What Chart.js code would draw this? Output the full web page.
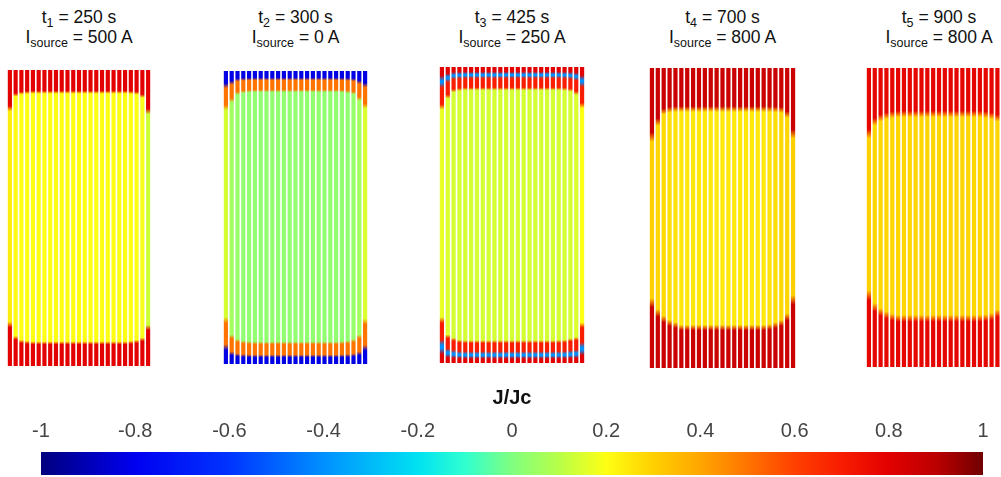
<!DOCTYPE html>
<html>
<head>
<meta charset="utf-8">
<script src="https://cdn.jsdelivr.net/npm/chart.js@4.4.1/dist/chart.umd.min.js"></script>
<style>
  body { margin: 0; width: 1001px; height: 477px; overflow: hidden; background: #fff; position: relative;
         font-family: "Liberation Sans", Arial, sans-serif; }
  canvas { position: absolute; }
  .ttl { position: absolute; top: 7px; width: 200px; text-align: center; font-size: 17.5px; line-height: 20px; color: #111; }
  .ttl sub { font-size: 12.5px; line-height: 0; vertical-align: -4px; }
</style>
</head>
<body>
<div id="panels"></div>
<canvas id="cbar" width="1001" height="97" style="left:0;top:380px"></canvas>
<script>
// tapes in the stack (one stripe each)
const tapeIds = ['1','2','3','4','5','6','7','8','9','10','11','12','13','14','15','16','17','18','19','20','21','22','23','24','25'];
const timesS = [250, 300, 425, 700, 900];
const sourceA = [500, 0, 250, 800, 800];

// colour map J/Jc -> colour
const cmapVals = [-1, -0.8, -0.6, -0.4, -0.2, -0.1, 0, 0.1, 0.2, 0.3, 0.4, 0.5, 0.6, 0.7, 0.8, 0.9, 1];
const cmapColors = ['#00007f', '#0000f0', '#0034ff', '#0090ff', '#00e2f2', '#30ffd0', '#80ff80', '#b8ff48', '#ffff14',
                    '#ffd000', '#ffa600', '#ff7400', '#ff4000', '#f81c00', '#e20000', '#bc0000', '#700000'];
const colorbarTicks = [-1, -0.8, -0.6, -0.4, -0.2, 0, 0.2, 0.4, 0.6, 0.8, 1];

// per panel: J/Jc of the layers at the tape ends (outermost first), their share of the front depth,
// front depth per tape (% of tape height) and J/Jc of the core
const p1TopJ = [0.8], p1TopShare = [1], p1BotJ = [0.8], p1BotShare = [1];
const p1TopFront = [13, 8.4, 7.8, 7.6, 7.5, 7.5, 7.5, 7.5, 7.5, 7.5, 7.5, 7.5, 7.5, 7.5, 7.5, 7.5, 7.5, 7.5, 7.5, 7.5, 7.5, 7.6, 7.8, 8.8, 14];
const p1BotFront = [14, 9.5, 8.3, 8, 7.8, 7.8, 7.8, 7.8, 7.8, 7.8, 7.8, 7.8, 7.8, 7.8, 7.8, 7.8, 7.8, 7.8, 7.8, 7.8, 7.8, 8, 8.3, 9, 13];
const p1Core = [0.24, 0.21, 0.2, 0.2, 0.2, 0.2, 0.2, 0.2, 0.2, 0.2, 0.2, 0.2, 0.2, 0.2, 0.2, 0.2, 0.2, 0.2, 0.2, 0.2, 0.2, 0.2, 0.2, 0.19, 0.13];

const p2TopJ = [-0.82, 0.5], p2TopShare = [0.4, 0.6], p2BotJ = [-0.82, 0.5], p2BotShare = [0.38, 0.62];
const p2TopFront = [12.5, 10, 7.6, 7.1, 6.9, 6.8, 6.8, 6.8, 6.8, 6.8, 6.8, 6.8, 6.8, 6.8, 6.8, 6.8, 6.8, 6.8, 6.8, 6.8, 6.9, 7.1, 7.5, 9.5, 12];
const p2BotFront = [15, 9.4, 8, 7.5, 7.3, 7.2, 7.2, 7.2, 7.2, 7.2, 7.2, 7.2, 7.2, 7.2, 7.2, 7.2, 7.2, 7.2, 7.2, 7.2, 7.3, 7.5, 8, 9.4, 14.5];
const p2Core = [0.14, 0.06, 0.04, 0.03, 0.03, 0.03, 0.03, 0.03, 0.03, 0.03, 0.03, 0.03, 0.03, 0.03, 0.03, 0.03, 0.03, 0.03, 0.03, 0.03, 0.03, 0.03, 0.04, 0.06, 0.15];

const p3TopJ = [0.8, -0.4, 0.7], p3TopShare = [0.28, 0.17, 0.55], p3BotJ = [0.8, -0.4, 0.7], p3BotShare = [0.27, 0.21, 0.52];
const p3TopFront = [13.5, 10, 8, 7.6, 7.4, 7.4, 7.4, 7.4, 7.4, 7.4, 7.4, 7.4, 7.4, 7.4, 7.4, 7.4, 7.4, 7.4, 7.4, 7.4, 7.4, 7.5, 7.8, 8.8, 13];
const p3BotFront = [14.5, 9, 8, 7.4, 7.2, 7.2, 7.2, 7.2, 7.2, 7.2, 7.2, 7.2, 7.2, 7.2, 7.2, 7.2, 7.2, 7.2, 7.2, 7.2, 7.3, 7.4, 7.8, 8.2, 12.8];
const p3Core = [0.17, 0.15, 0.14, 0.14, 0.14, 0.14, 0.14, 0.14, 0.14, 0.14, 0.14, 0.14, 0.14, 0.14, 0.14, 0.14, 0.14, 0.14, 0.14, 0.14, 0.14, 0.14, 0.14, 0.15, 0.2];

const p4TopJ = [0.86], p4TopShare = [1], p4BotJ = [0.86], p4BotShare = [1];
const p4TopFront = [23, 18, 14.5, 13.9, 13.7, 13.7, 13.7, 13.7, 13.7, 13.7, 13.7, 13.7, 13.7, 13.7, 13.7, 13.7, 13.7, 13.7, 13.7, 13.7, 13.7, 13.8, 14, 15.5, 22];
const p4BotFront = [21.7, 18.3, 16.3, 15, 14.3, 13.5, 13.5, 13.5, 13.5, 13.5, 13.5, 13.5, 13.5, 13.5, 13.5, 13.5, 13.5, 13.5, 13.5, 13.5, 13.7, 14.3, 15, 17, 22.7];
const p4Core = [0.3, 0.29, 0.28, 0.27, 0.26, 0.25, 0.25, 0.25, 0.25, 0.25, 0.25, 0.25, 0.25, 0.25, 0.25, 0.25, 0.25, 0.25, 0.25, 0.25, 0.26, 0.27, 0.28, 0.29, 0.3];

const p5TopJ = [0.78], p5TopShare = [1], p5BotJ = [0.78], p5BotShare = [1];
const p5TopFront = [22, 18, 16.7, 16, 15.6, 15.4, 15.4, 15.4, 15.4, 15.4, 15.4, 15.4, 15.4, 15.4, 15.4, 15.4, 15.4, 15.4, 15.4, 15.4, 15.6, 16, 16.7, 18, 22];
const p5BotFront = [24, 20, 18.4, 17.4, 16.7, 16.3, 16.3, 16.3, 16.3, 16.3, 16.3, 16.3, 16.3, 16.3, 16.3, 16.3, 16.3, 16.3, 16.3, 16.3, 16.5, 16.9, 18, 20, 24];
const p5Core = [0.3, 0.29, 0.29, 0.29, 0.29, 0.29, 0.29, 0.29, 0.29, 0.29, 0.29, 0.29, 0.29, 0.29, 0.29, 0.29, 0.29, 0.29, 0.29, 0.29, 0.29, 0.29, 0.29, 0.29, 0.3];

const panels = [
  { topJ: p1TopJ, topShare: p1TopShare, botJ: p1BotJ, botShare: p1BotShare, topFront: p1TopFront, botFront: p1BotFront, core: p1Core },
  { topJ: p2TopJ, topShare: p2TopShare, botJ: p2BotJ, botShare: p2BotShare, topFront: p2TopFront, botFront: p2BotFront, core: p2Core },
  { topJ: p3TopJ, topShare: p3TopShare, botJ: p3BotJ, botShare: p3BotShare, topFront: p3TopFront, botFront: p3BotFront, core: p3Core },
  { topJ: p4TopJ, topShare: p4TopShare, botJ: p4BotJ, botShare: p4BotShare, topFront: p4TopFront, botFront: p4BotFront, core: p4Core },
  { topJ: p5TopJ, topShare: p5TopShare, botJ: p5BotJ, botShare: p5BotShare, topFront: p5TopFront, botFront: p5BotFront, core: p5Core }
];

// where each panel sits on the page (outer edges of the stripes)
const panelBoxes = [
  { left: 8, right: 150, top: 70, bottom: 366 },
  { left: 224, right: 367, top: 71, bottom: 364 },
  { left: 440, right: 584, top: 67, bottom: 363 },
  { left: 650, right: 795, top: 68, bottom: 368 },
  { left: 867, right: 1011, top: 68, bottom: 367 }
];
const barShare = 0.72;

function hexRgb(h) {
  return [parseInt(h.slice(1, 3), 16), parseInt(h.slice(3, 5), 16), parseInt(h.slice(5, 7), 16)];
}

function cmap(j) {
  let k = 0;
  while (k < cmapVals.length - 2 && j > cmapVals[k + 1]) k++;
  const t = Math.max(0, Math.min(1, (j - cmapVals[k]) / (cmapVals[k + 1] - cmapVals[k])));
  const a = hexRgb(cmapColors[k]), b = hexRgb(cmapColors[k + 1]);
  return `rgb(${a.map((v, n) => Math.round(v + (b[n] - v) * t)).join(',')})`;
}

// split one tape (0 = bottom end, 100 = top end) into its layers
function tapeSegments(p, i) {
  const segs = [];
  const bTop = p.topFront[i] * 0.07, bBot = p.botFront[i] * 0.07;
  let pos = 100;
  p.topJ.forEach((j, k) => {
    const th = p.topFront[i] * p.topShare[k];
    segs.push({ hi: pos, lo: pos - th, j, bHi: bTop, bLo: bTop });
    pos -= th;
  });
  segs.push({ hi: pos, lo: p.botFront[i], j: p.core[i], bHi: bTop, bLo: bBot });
  pos = p.botFront[i];
  for (let k = p.botJ.length - 1; k >= 0; k--) {
    const th = p.botFront[i] * p.botShare[k];
    segs.push({ hi: pos, lo: pos - th, j: p.botJ[k], bHi: bBot, bLo: bBot });
    pos -= th;
  }
  return segs;
}

function tapeFill(p) {
  return (c) => {
    const { chart, dataIndex } = c;
    if (!chart.chartArea || dataIndex === undefined) return cmap(p.core[0]);
    const y = chart.scales.y;
    const y0 = y.getPixelForValue(100), y1 = y.getPixelForValue(0);
    const g = chart.ctx.createLinearGradient(0, y0, 0, y1);
    const off = v => Math.min(1, Math.max(0, (y.getPixelForValue(v) - y0) / (y1 - y0)));
    tapeSegments(p, dataIndex).forEach(s => {
      const th = s.hi - s.lo;
      const col = cmap(s.j);
      g.addColorStop(off(s.hi - Math.min(s.bHi, th * 0.35)), col);
      g.addColorStop(off(s.lo + Math.min(s.bLo, th * 0.35)), col);
    });
    return g;
  };
}

const holder = document.getElementById('panels');
panels.forEach((p, n) => {
  const box = panelBoxes[n];
  const cw = (box.right - box.left) / (tapeIds.length - (1 - barShare));
  const cv = document.createElement('canvas');
  cv.width = Math.round(cw * tapeIds.length);
  cv.height = box.bottom - box.top;
  cv.style.left = Math.round(box.left - cw * (1 - barShare) / 2) + 'px';
  cv.style.top = box.top + 'px';
  holder.appendChild(cv);

  const ttl = document.createElement('div');
  ttl.className = 'ttl';
  ttl.style.left = ((box.left + box.right) / 2 - 100) + 'px';
  ttl.innerHTML = `t<sub>${n + 1}</sub> = ${timesS[n]} s<br>I<sub>source</sub> = ${sourceA[n]} A`;
  holder.appendChild(ttl);

  new Chart(cv, {
    type: 'bar',
    data: {
      labels: tapeIds,
      datasets: [{
        data: tapeIds.map(() => [0, 100]),
        backgroundColor: tapeFill(p),
        borderWidth: 0,
        barPercentage: barShare,
        categoryPercentage: 1
      }]
    },
    options: {
      responsive: false,
      animation: false,
      events: [],
      layout: { padding: 0 },
      plugins: { legend: { display: false }, tooltip: { enabled: false } },
      scales: {
        x: { display: false },
        y: { display: false, min: 0, max: 100 }
      }
    }
  });
});

// colour bar
const cbarFill = (c) => {
  const { chart } = c;
  if (!chart.chartArea) return cmapColors[0];
  const xs = chart.scales.x;
  const x0 = xs.getPixelForValue(cmapVals[0]), x1 = xs.getPixelForValue(cmapVals[cmapVals.length - 1]);
  const g = chart.ctx.createLinearGradient(x0, 0, x1, 0);
  cmapVals.forEach((v, k) => g.addColorStop((xs.getPixelForValue(v) - x0) / (x1 - x0), cmapColors[k]));
  return g;
};

new Chart(document.getElementById('cbar'), {
  type: 'bar',
  data: {
    labels: ['J/Jc'],
    datasets: [{
      data: [[colorbarTicks[0], colorbarTicks[colorbarTicks.length - 1]]],
      backgroundColor: cbarFill,
      borderWidth: 0,
      barPercentage: 1,
      categoryPercentage: 1
    }]
  },
  options: {
    indexAxis: 'y',
    responsive: false,
    animation: false,
    events: [],
    layout: { padding: { left: 41, right: 18, top: 2, bottom: 2 } },
    plugins: { legend: { display: false }, tooltip: { enabled: false } },
    scales: {
      y: { display: false },
      x: {
        type: 'linear',
        position: 'top',
        min: -1,
        max: 1,
        grid: { display: false, drawTicks: false },
        border: { display: false },
        afterBuildTicks: s => { s.ticks = colorbarTicks.map(v => ({ value: v })); },
        afterFit: s => { s.height = 70; },
        ticks: {
          padding: 9,
          autoSkip: false,
          maxRotation: 0,
          color: '#444',
          font: { family: '"Liberation Sans", Arial, sans-serif', size: 20 },
          callback: v => String(v)
        },
        title: {
          display: true,
          text: 'J/Jc',
          color: '#111',
          font: { family: '"Liberation Sans", Arial, sans-serif', size: 20, weight: 'bold' },
          padding: { top: 4, bottom: 0 }
        }
      }
    }
  }
});
</script>
</body>
</html>
